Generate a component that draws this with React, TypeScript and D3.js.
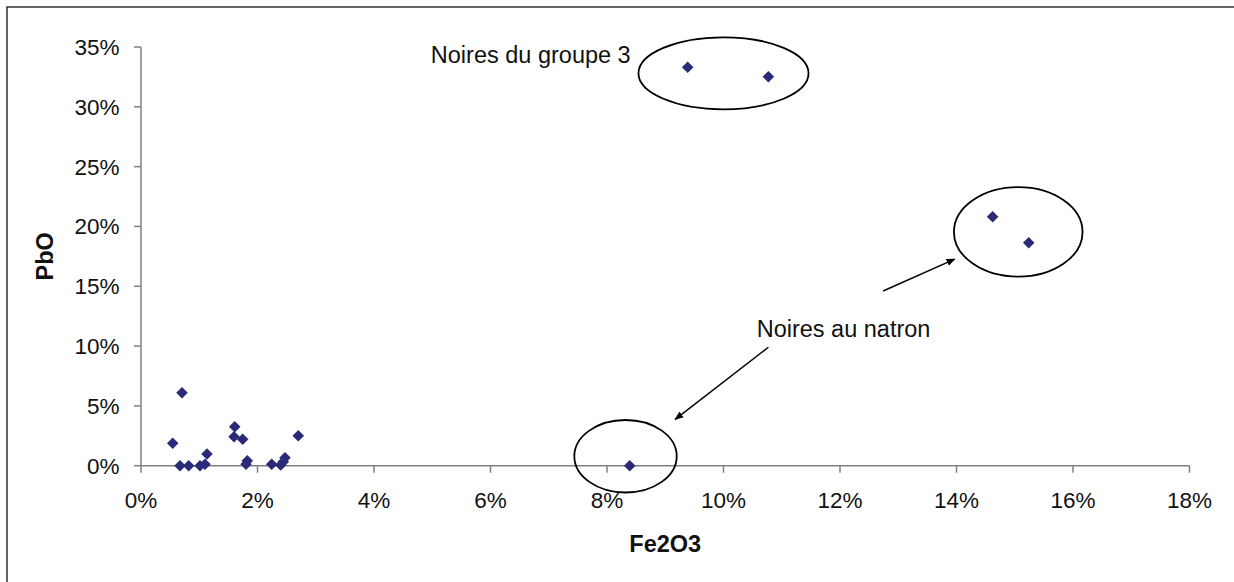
import React from "react";
import * as d3 from "d3";

// Data: Fe2O3 (%) vs PbO (%)
const fe2o3 = [0.704, 0.544, 0.67, 0.819, 1.013, 1.099, 1.133, 1.609, 1.597, 1.746, 1.825, 1.803, 2.244, 2.398, 2.472, 2.443, 2.7, 8.39, 9.385, 10.77, 14.62, 15.24];
const pbo = [6.1, 1.87, 0, 0, 0, 0.12, 0.98, 3.26, 2.42, 2.21, 0.42, 0.12, 0.12, 0.06, 0.67, 0.33, 2.51, 0, 33.3, 32.52, 20.81, 18.64];

const xTicks = [0, 2, 4, 6, 8, 10, 12, 14, 16, 18];
const yTicks = [0, 5, 10, 15, 20, 25, 30, 35];

const xTitle = "Fe2O3";
const yTitle = "PbO";

// Annotations (in data units)
const ellipses = [
  { cx: 10.0, cy: 32.8, rx: 1.46, ry: 3.01 },
  { cx: 15.06, cy: 19.54, rx: 1.104, ry: 3.74 },
  { cx: 8.318, cy: 0.79, rx: 0.879, ry: 3.03 },
];
const arrows = [
  { x1: 10.77, y1: 9.9, x2: 9.17, y2: 3.87 },
  { x1: 12.74, y1: 14.6, x2: 13.97, y2: 17.27 },
];
const labels = [
  { text: "Noires du groupe 3", x: 8.407, y: 33.64, anchor: "end" },
  { text: "Noires au natron", x: 10.57, y: 10.78, anchor: "start" },
];

const W = 1234;
const H = 582;
const M = { left: 141, right: 1189.5, top: 47, bottom: 465.7 };
const FONT = "'Liberation Sans', Arial, sans-serif";
const AXIS = "#808080";
const MARK = "#2a2a78";

export default function App() {
  const x = d3.scaleLinear().domain([0, 18]).range([M.left, M.right]);
  const y = d3.scaleLinear().domain([0, 35]).range([M.bottom, M.top]);
  const sym = d3.symbol().type(d3.symbolDiamond2).size(85)();
  const pts = fe2o3.map((v, i) => ({ x: v, y: pbo[i] }));

  return (
    <svg width={W} height={H} style={{ position: "absolute", left: 0, top: 0, background: "#fff" }}>
      <defs>
        <marker id="ah" viewBox="0 0 10 10" refX="9" refY="5" markerWidth="9" markerHeight="9" markerUnits="userSpaceOnUse" orient="auto">
          <path d="M0,1 L10,5 L0,9 Z" fill="#000" />
        </marker>
      </defs>
      <rect x={0} y={0} width={W} height={H} fill="#fff" />
      <rect x={7} y={7} width={1400} height={800} fill="none" stroke="#333" strokeWidth={1.5} />

      {/* Y axis */}
      <line x1={M.left} x2={M.left} y1={y(0)} y2={y(35)} stroke={AXIS} strokeWidth={1.5} />
      {yTicks.map((t) => (
        <g key={"y" + t}>
          <line x1={M.left - 7} x2={M.left} y1={y(t)} y2={y(t)} stroke={AXIS} strokeWidth={1.5} />
          <text x={119.5} y={y(t)} dy="0.35em" textAnchor="end" fontFamily={FONT} fontSize={22.5} fill="#111">
            {t + "%"}
          </text>
        </g>
      ))}

      {/* X axis */}
      <line x1={x(0)} x2={x(18)} y1={y(0)} y2={y(0)} stroke={AXIS} strokeWidth={1.5} />
      {xTicks.map((t) => (
        <g key={"x" + t}>
          <line x1={x(t)} x2={x(t)} y1={y(0)} y2={y(0) + 7} stroke={AXIS} strokeWidth={1.5} />
          <text x={x(t)} y={507.7} textAnchor="middle" fontFamily={FONT} fontSize={22.5} fill="#111">
            {t + "%"}
          </text>
        </g>
      ))}

      <text x={(M.left + M.right) / 2} y={551.7} textAnchor="middle" fontFamily={FONT} fontSize={23.5} fontWeight="bold" fill="#111">
        {xTitle}
      </text>
      <text transform={`translate(53,${(M.top + M.bottom) / 2}) rotate(-90)`} textAnchor="middle" fontFamily={FONT} fontSize={23.5} fontWeight="bold" fill="#111">
        {yTitle}
      </text>

      {/* Points */}
      {pts.map((p, i) => (
        <path key={i} d={sym as string} transform={`translate(${x(p.x)},${y(p.y)})`} fill={MARK} />
      ))}

      {/* Annotations */}
      {ellipses.map((e, i) => (
        <ellipse key={"e" + i} cx={x(e.cx)} cy={y(e.cy)} rx={x(e.rx) - x(0)} ry={y(0) - y(e.ry)} fill="none" stroke="#000" strokeWidth={1.8} />
      ))}
      {arrows.map((a, i) => (
        <line key={"a" + i} x1={x(a.x1)} y1={y(a.y1)} x2={x(a.x2)} y2={y(a.y2)} stroke="#000" strokeWidth={1.5} markerEnd="url(#ah)" />
      ))}
      {labels.map((l, i) => (
        <text key={"l" + i} x={x(l.x)} y={y(l.y)} textAnchor={l.anchor as any} fontFamily={FONT} fontSize={23.5} fill="#111">
          {l.text}
        </text>
      ))}
    </svg>
  );
}
